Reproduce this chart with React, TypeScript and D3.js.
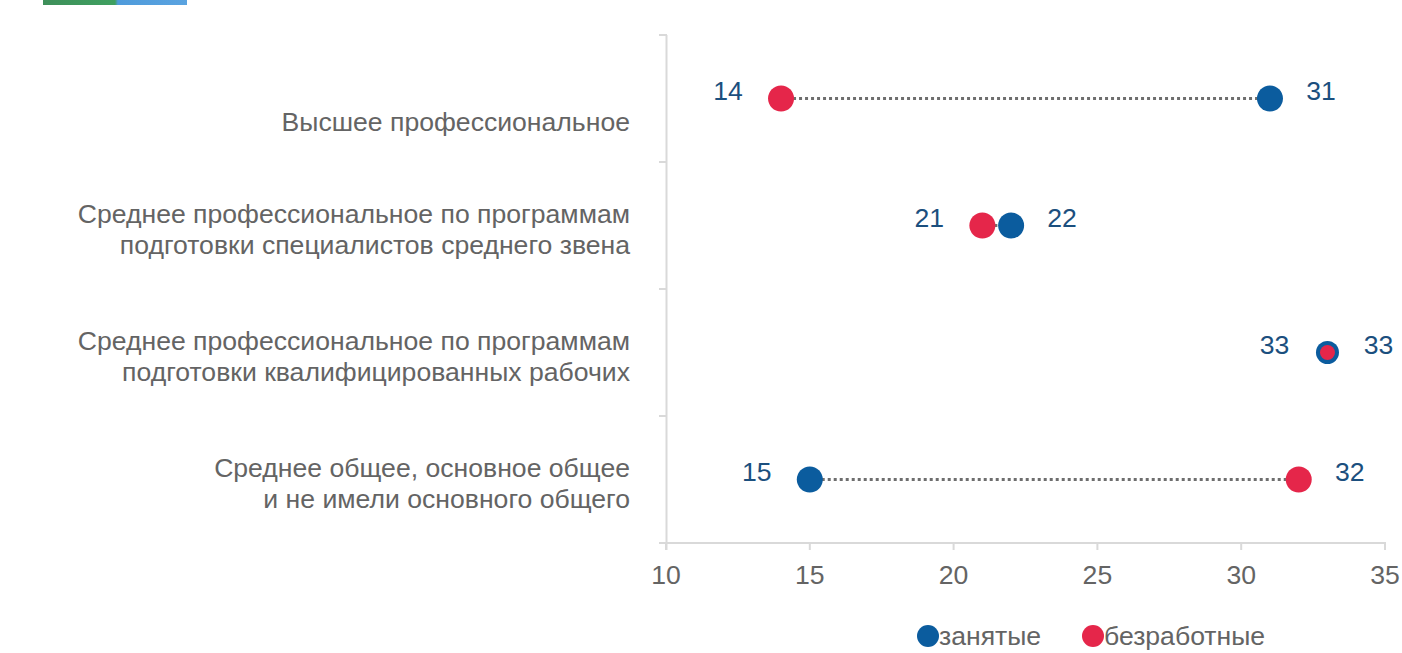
import React from "react";
import * as d3 from "d3";

const categories: string[][] = [
  ["Высшее профессиональное"],
  ["Среднее профессиональное по программам", "подготовки специалистов среднего звена"],
  ["Среднее профессиональное по программам", "подготовки квалифицированных рабочих"],
  ["Среднее общее, основное общее", "и не имели основного общего"],
];
const employed: number[] = [31, 22, 33, 15];
const unemployed: number[] = [14, 21, 33, 32];
const xTicks: number[] = [10, 15, 20, 25, 30, 35];
const seriesNames: string[] = ["занятые", "безработные"];

const W = 1402;
const H = 653;
const BLUE = "#0B5C9E";
const RED = "#E5264A";
const LABEL = "#1B4F7E";
const GRAY_TEXT = "#646464";
const AXIS = "#D9D9D9";
const FONT = "'Liberation Sans', Arial, sans-serif";
const FS = 26.6;

export default function App() {
  const x = d3.scaleLinear().domain([10, 35]).range([666, 1385]);
  const y = d3
    .scaleBand<number>()
    .domain(d3.range(categories.length))
    .range([35, 543]);
  const bw = y.bandwidth();
  const cy = (i: number) => (y(i) as number) + bw / 2;
  const boundaries = d3.range(categories.length + 1).map((i) => 35 + i * bw);
  const axisY = 543;

  return (
    <svg
      width={W}
      height={H}
      style={{ position: "absolute", left: 0, top: 0, background: "#fff" }}
      fontFamily={FONT}
    >
      <defs>
        <linearGradient id="logo" x1="0" x2="1" y1="0" y2="0">
          <stop offset="0" stopColor="#3E8F5A" />
          <stop offset="0.5" stopColor="#3FA060" />
          <stop offset="0.52" stopColor="#4F9BDB" />
          <stop offset="1" stopColor="#5AA3E0" />
        </linearGradient>
      </defs>
      <rect x={43} y={0} width={144} height={5} fill="url(#logo)" />

      {/* y axis */}
      <line x1={666.5} x2={666.5} y1={35} y2={axisY + 7} stroke={AXIS} strokeWidth={2} />
      {boundaries.map((b, i) => (
        <line key={"yt" + i} x1={659} x2={667} y1={b} y2={b} stroke={AXIS} strokeWidth={2} />
      ))}
      {/* x axis */}
      <line x1={659} x2={1386} y1={axisY} y2={axisY} stroke={AXIS} strokeWidth={2} />
      {xTicks.map((t) => (
        <g key={"xt" + t}>
          <line x1={x(t)} x2={x(t)} y1={axisY} y2={axisY + 7} stroke={AXIS} strokeWidth={2} />
          <text
            x={x(t)}
            y={575}
            textAnchor="middle"
            dominantBaseline="central"
            fontSize={FS}
            fill={GRAY_TEXT}
          >
            {t}
          </text>
        </g>
      ))}

      {/* category labels */}
      {categories.map((lines, i) => {
        const lh = 31;
        const center = lines.length === 1 ? cy(i) + 23.5 : cy(i) + 4;
        const start = center - ((lines.length - 1) * lh) / 2;
        return (
          <text key={"c" + i} textAnchor="end" fontSize={FS} fill={GRAY_TEXT}>
            {lines.map((l, j) => (
              <tspan key={j} x={630} y={start + j * lh} dominantBaseline="central">
                {l}
              </tspan>
            ))}
          </text>
        );
      })}

      {/* connectors and dots */}
      {categories.map((_, i) => {
        const e = employed[i];
        const u = unemployed[i];
        const yy = cy(i);
        const same = e === u;
        const leftVal = Math.min(e, u);
        const rightVal = Math.max(e, u);
        return (
          <g key={"p" + i}>
            <line
              x1={x(u)}
              x2={x(e)}
              y1={yy}
              y2={yy}
              stroke="#6E6E6E"
              strokeWidth={3}
              strokeDasharray="3,3"
            />
            <circle cx={x(e)} cy={yy} r={same ? 11.5 : 13} fill={BLUE} />
            <circle cx={x(u)} cy={yy} r={same ? 7.5 : 13} fill={RED} />
            <text
              x={x(leftVal) - 53}
              y={yy - 8}
              textAnchor="middle"
              dominantBaseline="central"
              fontSize={FS}
              fill={LABEL}
            >
              {leftVal}
            </text>
            <text
              x={x(rightVal) + 51}
              y={yy - 8}
              textAnchor="middle"
              dominantBaseline="central"
              fontSize={FS}
              fill={LABEL}
            >
              {rightVal}
            </text>
          </g>
        );
      })}

      {/* legend */}
      {seriesNames.map((name, i) => {
        const lx = i === 0 ? 928 : 1093;
        return (
          <g key={"lg" + i}>
            <circle cx={lx} cy={636} r={11} fill={i === 0 ? BLUE : RED} />
            <text x={lx + 11} y={636} dominantBaseline="central" fontSize={FS} fill={GRAY_TEXT}>
              {name}
            </text>
          </g>
        );
      })}
    </svg>
  );
}
